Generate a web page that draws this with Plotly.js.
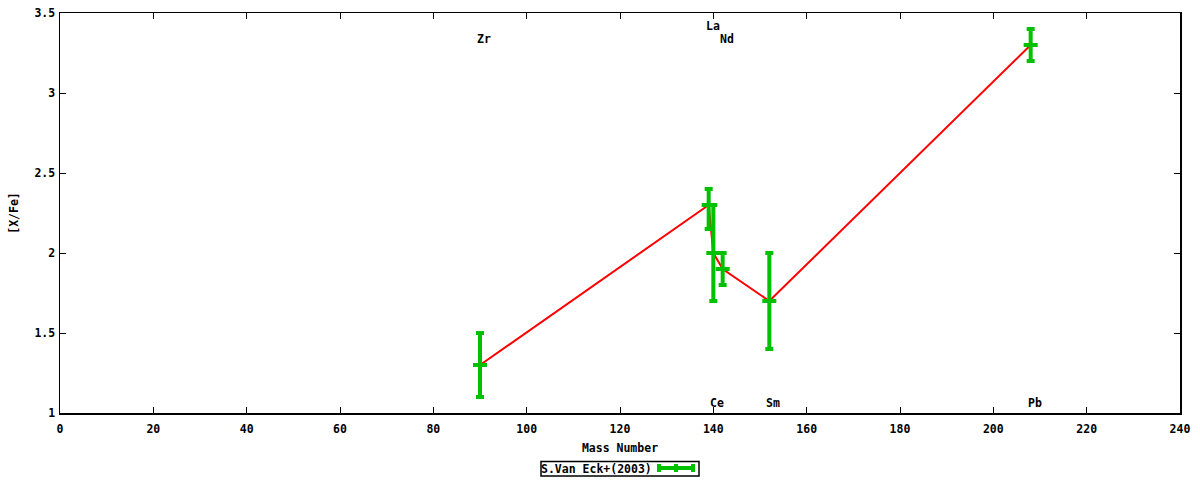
<!DOCTYPE html>
<html>
<head>
<meta charset="utf-8">
<script src="https://cdn.plot.ly/plotly-3.0.1.min.js"></script>
<style>html,body{margin:0;padding:0;background:#fff}#chart{width:1200px;height:480px}</style>
</head>
<body>
<div id="chart"></div>
<script>
// Data
var elements = ["Zr", "La", "Ce", "Nd", "Sm", "Pb"];
var massNumber = [90, 139, 140, 142, 152, 208];
var xFe = [1.3, 2.3, 2.0, 1.9, 1.7, 3.3];
var errPlus = [0.2, 0.1, 0.3, 0.1, 0.3, 0.1];
var errMinus = [0.2, 0.15, 0.3, 0.1, 0.3, 0.1];
var labelY = [3.34, 3.42, 1.06, 3.34, 1.06, 1.06];
var xTicks = [0, 20, 40, 60, 80, 100, 120, 140, 160, 180, 200, 220, 240];
var yTicks = [1, 1.5, 2, 2.5, 3, 3.5];
var yTickText = ["1", "1.5", "2", "2.5", "3", "3.5"];
var seriesName = "S.Van Eck+(2003)";

var FONT = {family: "DejaVu Sans Mono", size: 11.5, color: "#000"};
var GREEN = "#00c000";

var traces = [
  {
    x: massNumber, y: xFe, mode: "lines", type: "scatter",
    line: {color: "#ff0000", width: 2}, showlegend: false, hoverinfo: "skip"
  },
  {
    x: massNumber, y: xFe, mode: "markers", type: "scatter", name: seriesName,
    marker: {symbol: "line-ew", size: 10, color: GREEN, line: {color: GREEN, width: 4}},
    error_y: {type: "data", symmetric: false, array: errPlus, arrayminus: errMinus,
              color: GREEN, thickness: 4, width: 4},
    showlegend: false
  }
];

var annotations = elements.map(function (el, i) {
  return {x: massNumber[i], y: labelY[i], xref: "x", yref: "y", text: "<b>" + el + "</b>",
          showarrow: false, font: FONT, xanchor: "center", yanchor: "middle", xshift: 4};
});

function px(xp) { return (xp - 60) / 1120; }
function py(yp) { return (413 - yp) / 400; }

annotations.push({
  x: px(539), y: py(469), xref: "paper", yref: "paper", xanchor: "left", yanchor: "middle",
  text: "<b>" + seriesName + "</b>", showarrow: false, font: FONT
});

var shapes = [
  {type: "rect", xref: "paper", yref: "paper", x0: px(541), x1: px(699), y0: py(476), y1: py(461.5),
   line: {color: "#000", width: 1.5}, fillcolor: "rgba(0,0,0,0)"},
  {type: "line", xref: "paper", yref: "paper", x0: px(658), x1: px(694), y0: py(468), y1: py(468),
   line: {color: GREEN, width: 4}},
  {type: "line", xref: "paper", yref: "paper", x0: px(659), x1: px(659), y0: py(464), y1: py(472),
   line: {color: GREEN, width: 4}},
  {type: "line", xref: "paper", yref: "paper", x0: px(676), x1: px(676), y0: py(464), y1: py(472),
   line: {color: GREEN, width: 4}},
  {type: "line", xref: "paper", yref: "paper", x0: px(693), x1: px(693), y0: py(464), y1: py(472),
   line: {color: GREEN, width: 4}}
];

var layout = {
  width: 1200, height: 480,
  margin: {l: 60, r: 20, t: 13, b: 67},
  paper_bgcolor: "#fff", plot_bgcolor: "#fff",
  showlegend: false,
  font: FONT,
  xaxis: {
    range: [0, 240], tickvals: xTicks, ticktext: xTicks.map(function (v) { return "<b>" + v + "</b>"; }),
    ticks: "inside", ticklen: 6, tickcolor: "#000", tickwidth: 1,
    showline: true, linecolor: "#000", linewidth: 1.5, mirror: "ticks",
    showgrid: false, zeroline: false, tickfont: FONT, ticklabelstandoff: 5,
    title: {text: "<b>Mass Number</b>", font: FONT, standoff: 8}
  },
  yaxis: {
    range: [1, 3.5], tickvals: yTicks, ticktext: yTickText.map(function (v) { return "<b>" + v + "</b>"; }),
    ticks: "inside", ticklen: 6, tickcolor: "#000", tickwidth: 1,
    showline: true, linecolor: "#000", linewidth: 1.5, mirror: "ticks",
    showgrid: false, zeroline: false, tickfont: FONT, ticklabelstandoff: 1,
    title: {text: "<b>[X/Fe]</b>", font: FONT, standoff: 13}
  },
  annotations: annotations,
  shapes: shapes
};

Plotly.newPlot("chart", traces, layout, {displayModeBar: false, staticPlot: true});
</script>
</body>
</html>
